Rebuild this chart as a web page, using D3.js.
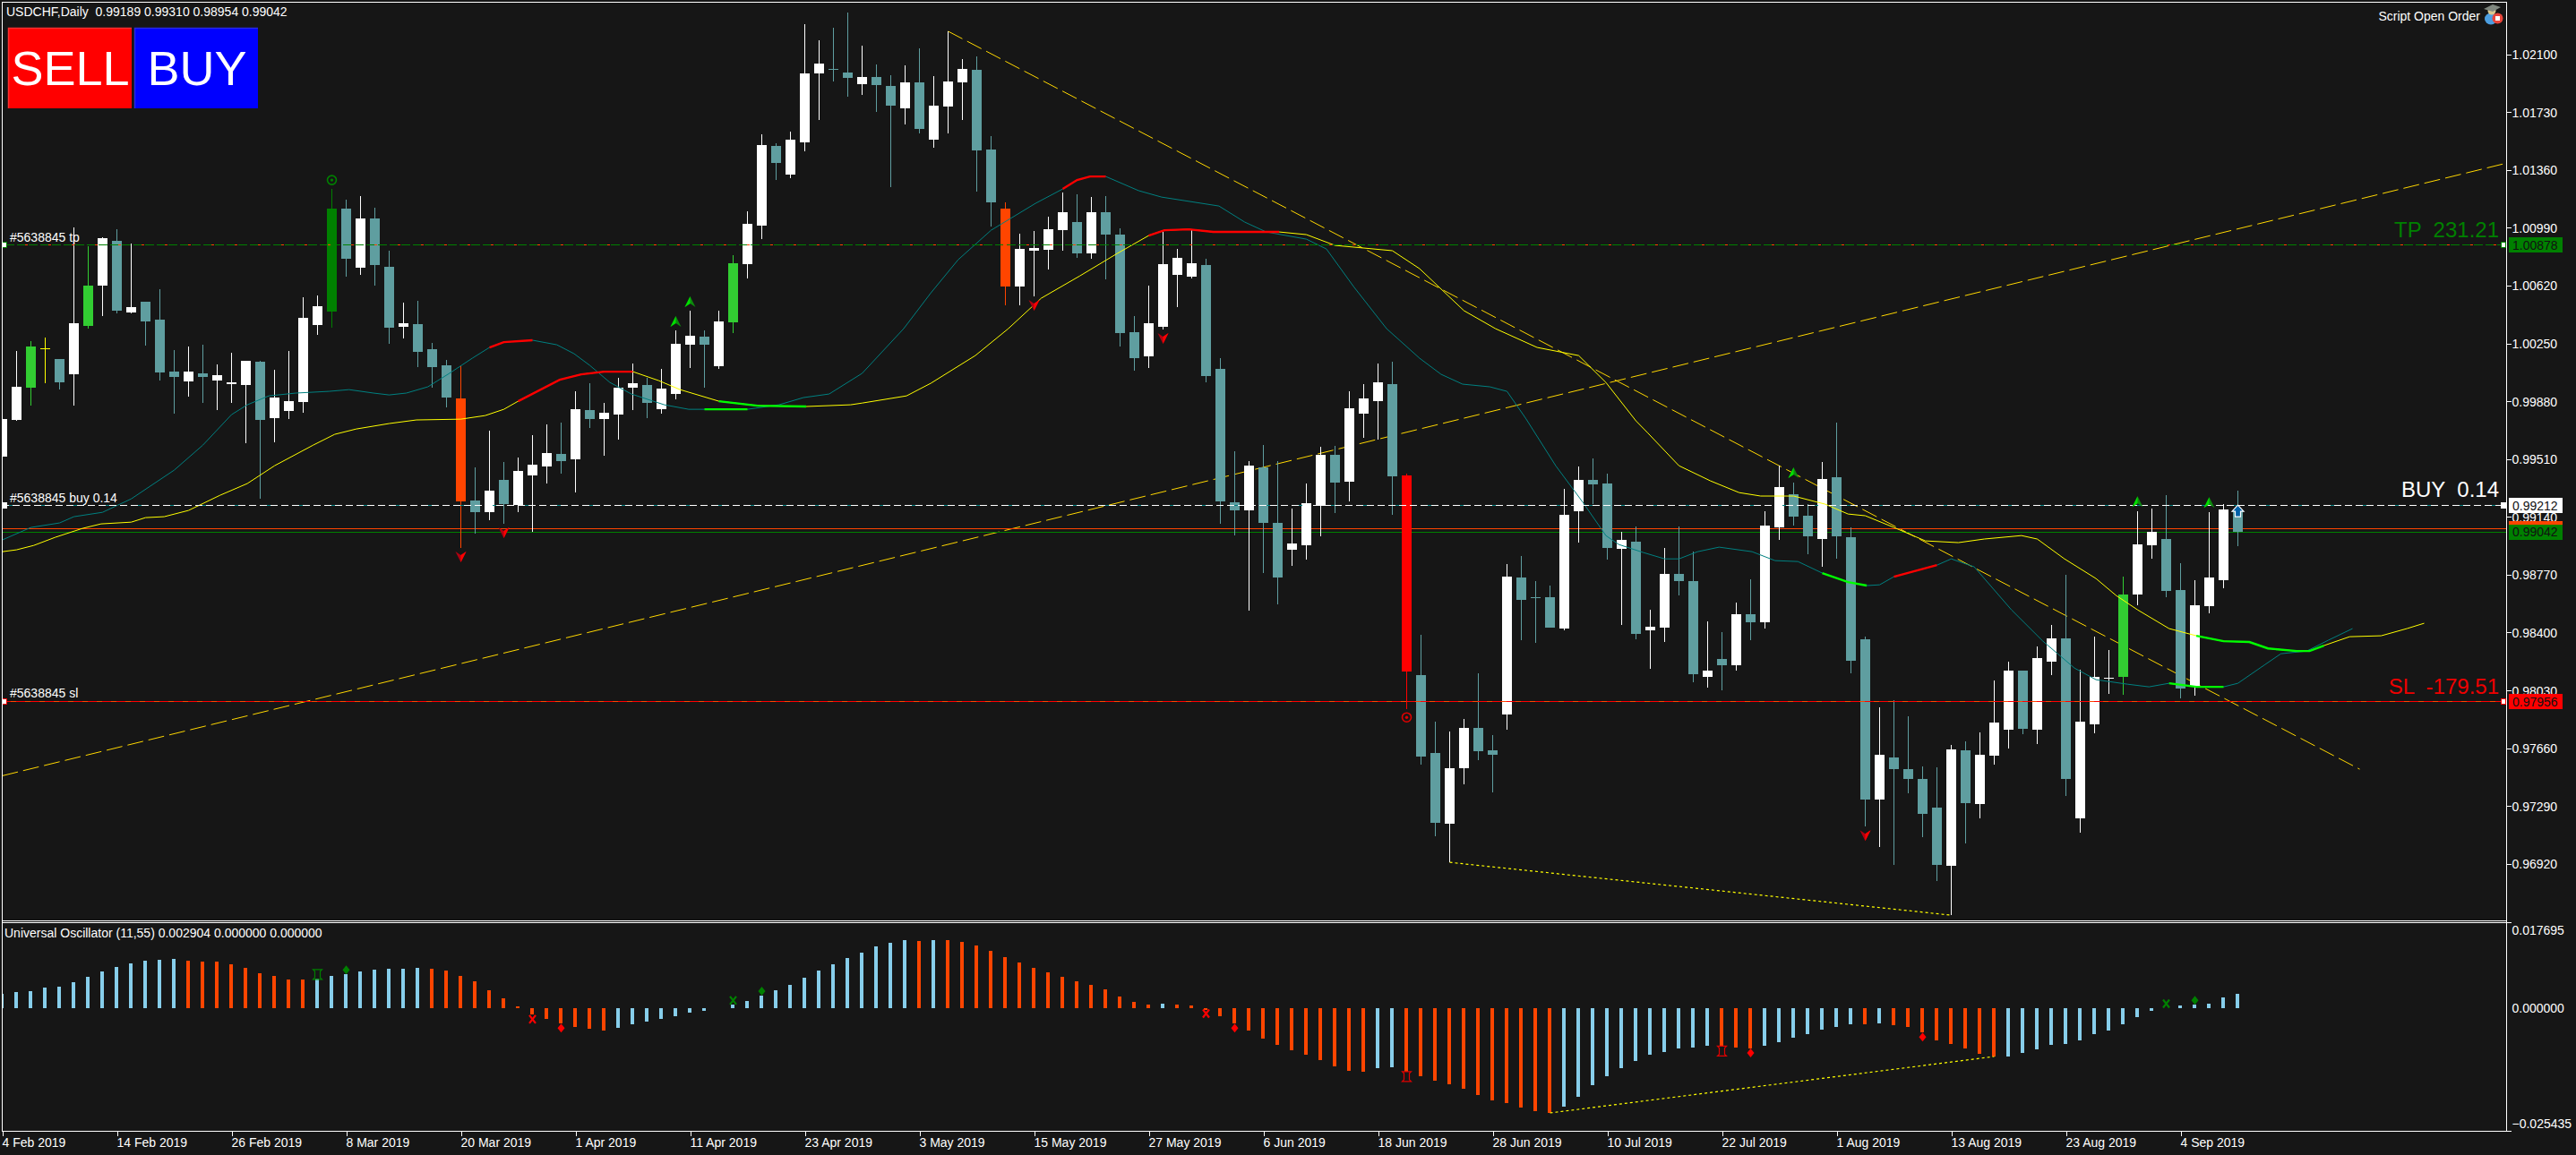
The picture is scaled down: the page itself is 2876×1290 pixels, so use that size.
<!DOCTYPE html>
<html>
<head>
<meta charset="utf-8">
<title>USDCHF Daily</title>
<script src="https://cdn.jsdelivr.net/npm/d3@7"></script>
<style>
html,body{margin:0;padding:0;background:#161616;overflow:hidden}
svg{display:block}
text{font-family:"Liberation Sans",Arial,sans-serif;fill:#fff}
.axis path,.axis line{stroke:#fff;shape-rendering:crispEdges}
.axis text{font-size:14px;fill:#fff;font-family:"Liberation Sans",Arial,sans-serif}
</style>
</head>
<body>
<svg id="chart" width="2876" height="1290"></svg>
<script>
const highs=[0.99897,1.00201,1.00264,1.00287,1.00149,1.00992,1.00871,1.00929,1.00980,1.00888,
1.00516,1.00596,1.00207,1.00229,1.00241,1.00115,1.00189,1.00138,1.00138,1.00081,
1.00201,1.00545,1.00556,1.01238,1.01169,1.01192,1.01118,1.00843,1.00510,1.00522,
1.00252,1.00144,1.00103,0.99456,0.99691,0.99490,0.99519,0.99662,0.99731,0.99742,
0.99943,0.99995,0.99868,1.00029,1.00121,1.00029,1.00086,1.00333,1.00459,1.00333,
1.00459,1.00814,1.01095,1.01587,1.01530,1.01605,1.02292,1.02189,1.02269,1.02367,
1.02155,1.02034,1.01966,1.02029,1.02138,1.01960,1.02246,1.02069,1.02086,1.01576,
1.01152,1.00951,1.00969,1.01060,1.01215,1.01204,1.01186,1.01192,1.00986,1.00424,
1.00619,1.00963,1.00854,1.00974,1.00791,1.00155,0.99559,0.99496,0.99599,0.99496,
0.99192,0.99353,0.99588,0.99593,0.99943,0.99989,1.00121,1.00132,0.99416,0.98384,
0.97829,0.97766,0.97846,0.98138,0.97743,0.98837,0.98889,0.98728,0.98700,0.99318,
0.99462,0.99513,0.99416,0.99043,0.99078,0.98545,0.98940,0.99078,0.98917,0.98470,
0.98402,0.98591,0.98740,0.99175,0.99467,0.99359,0.99221,0.99490,0.99742,0.99072,
0.98373,0.97920,0.97966,0.97863,0.97542,0.97536,0.97680,0.97703,0.97760,0.98092,
0.98213,0.98155,0.98310,0.98448,0.98768,0.98161,0.98373,0.98287,0.98757,0.99175,
0.99192,0.99278,0.98843,0.98734,0.99169,0.99221,0.99310];
const lows=[0.99410,0.99754,0.99851,0.99995,0.99954,0.99851,1.00344,1.00424,1.00441,1.00441,
1.00235,1.00012,0.99800,0.99909,0.99868,0.99823,0.99868,0.99611,0.99255,0.99616,
0.99765,0.99805,1.00304,1.00350,1.00676,1.00688,1.00619,1.00247,1.00281,1.00098,
0.99966,0.99840,0.98940,0.99032,0.99118,0.99095,0.99169,0.99043,0.99353,0.99416,
0.99295,0.99708,0.99530,0.99634,0.99823,0.99771,0.99800,0.99891,1.00092,0.99966,
1.00086,1.00315,1.00665,1.00917,1.01295,1.01307,1.01479,1.01679,1.01926,1.01828,
1.01840,1.01731,1.01249,1.01651,1.01593,1.01502,1.01593,1.01679,1.01221,1.00997,
1.00493,1.00493,1.00550,1.00722,1.00843,1.00797,1.00791,1.00659,1.00229,1.00075,
1.00092,1.00338,1.00482,1.00665,1.00000,0.99095,0.99020,0.98539,0.98780,0.98579,
0.98826,0.98866,0.99015,0.99164,0.99238,0.99645,0.99634,0.99152,0.97909,0.97554,
0.97095,0.96929,0.97428,0.97582,0.97376,0.97777,0.98350,0.98333,0.98430,0.98413,
0.98975,0.99221,0.98866,0.98448,0.98356,0.98167,0.98339,0.98637,0.98081,0.98046,
0.98029,0.98155,0.98350,0.98425,0.98992,0.99083,0.98900,0.98820,0.98871,0.98138,
0.97158,0.97026,0.96912,0.97370,0.97089,0.96809,0.96591,0.97049,0.97210,0.97554,
0.97657,0.97748,0.97685,0.98127,0.97353,0.97118,0.97754,0.98006,0.98001,0.98574,
0.98871,0.98625,0.97978,0.97995,0.98522,0.98682,0.98954];
const opens=[0.99525,0.99760,0.99966,1.00218,1.00149,1.00052,1.00361,1.00619,1.00906,1.00447,
1.00516,1.00401,1.00069,1.00006,1.00058,1.00012,0.99989,0.99983,1.00132,0.99771,
0.99817,0.99874,1.00367,1.00453,1.01112,1.00734,1.01049,1.00739,1.00356,1.00373,
1.00212,1.00109,0.99897,0.99244,0.99169,0.99376,0.99215,0.99404,0.99462,0.99542,
0.99508,0.99823,0.99765,0.99794,0.99966,0.99983,0.99828,0.99926,1.00241,1.00293,
1.00103,1.00384,1.00757,1.01003,1.01513,1.01330,1.01536,1.01977,1.02006,1.01983,
1.01908,1.01954,1.01897,1.01754,1.01920,1.01553,1.01765,1.01920,1.02000,1.01490,
1.01112,1.00613,1.00843,1.00848,1.00974,1.01026,1.00825,1.01089,1.00946,1.00321,
1.00166,1.00356,1.00688,1.00676,1.00751,1.00086,0.99232,0.99181,0.99456,0.99101,
0.98929,0.98957,0.99210,0.99536,0.99364,0.99800,0.99880,0.99989,0.99404,0.98127,
0.97628,0.97175,0.97531,0.97789,0.97645,0.97874,0.98751,0.98625,0.98625,0.98425,
0.99175,0.99376,0.99353,0.98935,0.98980,0.98413,0.98430,0.98774,0.98728,0.98115,
0.98230,0.98190,0.98516,0.98465,0.99072,0.99284,0.99147,0.98998,0.99393,0.99009,
0.98356,0.97330,0.97599,0.97525,0.97462,0.97279,0.96906,0.97645,0.97301,0.97611,
0.97777,0.98155,0.97777,0.98213,0.98362,0.97210,0.97811,0.98109,0.98115,0.98642,
0.98957,0.98998,0.98671,0.98052,0.98568,0.98734,0.99189];
const closes=[0.99765,0.99972,1.00229,1.00218,1.00000,1.00378,1.00619,1.00923,1.00459,1.00482,
1.00390,1.00063,1.00035,1.00069,1.00035,1.00046,1.00000,1.00138,0.99760,0.99903,
0.99880,1.00413,1.00487,1.01112,1.00791,1.01049,1.00751,1.00350,1.00378,1.00195,
1.00098,0.99903,0.99238,0.99169,0.99307,0.99221,0.99433,0.99473,0.99548,0.99496,
0.99828,0.99765,0.99805,0.99966,0.99995,0.99868,0.99960,1.00247,1.00298,1.00241,
1.00390,1.00762,1.01014,1.01519,1.01404,1.01553,1.01977,1.02040,1.02006,1.01948,
1.01954,1.01903,1.01771,1.01920,1.01622,1.01771,1.01926,1.02006,1.01484,1.01152,
1.00613,1.00854,1.00860,1.00980,1.01089,1.00825,1.01089,1.00946,1.00315,1.00155,
1.00378,1.00757,1.00797,1.00762,1.00040,0.99238,0.99181,0.99467,0.99101,0.98751,
0.98969,0.99227,0.99536,0.99359,0.99834,0.99897,1.00000,0.99399,0.98149,0.97605,
0.97181,0.97531,0.97789,0.97640,0.97617,0.98757,0.98608,0.98625,0.98430,0.99152,
0.99376,0.99347,0.98940,0.98992,0.98390,0.98436,0.98774,0.98728,0.98132,0.98155,
0.98190,0.98516,0.98465,0.99083,0.99330,0.99141,0.99015,0.99381,0.99015,0.98218,
0.97330,0.97617,0.97525,0.97462,0.97238,0.96912,0.97651,0.97307,0.97617,0.97823,
0.98155,0.97783,0.98235,0.98362,0.97462,0.97829,0.98115,0.98109,0.98642,0.98963,
0.99043,0.98665,0.98041,0.98574,0.98751,0.99187,0.99042];
// Bars painted in a special colour: [bar, colour name]
const specialBars=[[2,"lime"],[3,"yellow"],[6,"lime"],[23,"green"],[32,"orange"],[51,"lime"],[70,"orange"],[98,"red"],[148,"lime"]];

const oscValues=[0.00296,0.00333,0.00352,0.00426,0.00444,0.00537,0.00648,0.00759,0.00851,0.00926,
0.00981,0.01000,0.01018,0.00981,0.00963,0.00963,0.00907,0.00833,0.00722,0.00666,
0.00592,0.00592,0.00611,0.00666,0.00703,0.00759,0.00796,0.00814,0.00814,0.00833,
0.00814,0.00777,0.00666,0.00555,0.00370,0.00204,0.00037,-0.00130,-0.00222,-0.00315,
-0.00389,-0.00426,-0.00463,-0.00407,-0.00333,-0.00278,-0.00222,-0.00167,-0.00093,-0.00056,
0,0.00074,0.00148,0.00259,0.00370,0.00481,0.00629,0.00777,0.00907,0.01037,
0.01148,0.01277,0.01351,0.01407,0.01388,0.01407,0.01407,0.01370,0.01296,0.01185,
0.01055,0.00944,0.00833,0.00740,0.00648,0.00555,0.00481,0.00389,0.00241,0.00130,
0.00074,0.00093,0.00074,0.00056,-0.00043,-0.00167,-0.00315,-0.00463,-0.00629,-0.00759,
-0.00870,-0.00963,-0.01074,-0.01203,-0.01296,-0.01314,-0.01240,-0.01222,-0.01314,-0.01407,
-0.01499,-0.01573,-0.01666,-0.01795,-0.01907,-0.01962,-0.02055,-0.02129,-0.02166,-0.02036,
-0.01832,-0.01592,-0.01407,-0.01240,-0.01092,-0.00963,-0.00907,-0.00833,-0.00814,-0.00777,
-0.00796,-0.00814,-0.00833,-0.00777,-0.00703,-0.00611,-0.00537,-0.00444,-0.00389,-0.00333,
-0.00333,-0.00315,-0.00352,-0.00389,-0.00500,-0.00666,-0.00740,-0.00833,-0.00944,-0.01000,
-0.01000,-0.00926,-0.00851,-0.00759,-0.00740,-0.00666,-0.00537,-0.00463,-0.00333,-0.00185,
-0.00056,0,0.00056,0.00074,0.00093,0.00222,0.002904];
const oscOrangeRanges=[[13,21],[30,42],[64,64],[66,80],[82,95],[98,108],[120,122],[130,130],[132,139]];

// Moving averages: [bar, price]
const tealMA=[[0,.98992],[2,.99072],[4,.99101],[5,.99141],[7,.99169],[9,.99255],[12,.99439],[14,.99599],[16,.99794],[17.1,.99857],[18.6,.99914],[20.5,.99932],[22.8,.99943],[24.2,.99954],[25.9,.99932],[27,.99920],[28.2,.99932],[29.7,.99972],[31.2,1.00058],[32.8,1.00155],[34,1.00224],[35,1.00258],[37,1.00270],[38.7,1.00241],[39.9,1.00184],[41,1.00109],[42.4,1.00000],[43.9,.99926],[46.2,.99857],[47.9,.99828],[49,.99828],[52,.99828],[54.2,.99857],[55.9,.99903],[57.7,.99926],[60,1.00058],[62.9,1.00344],[64.8,1.00573],[66.7,1.00785],[69,1.00974],[72.1,1.01146],[74,1.01238],[75,1.01295],[75.9,1.01318],[77,1.01318],[79.3,1.01227],[80.9,1.01186],[84.9,1.01129],[86.7,1.01026],[88.2,1.00963],[91,1.00917],[92.4,1.00854],[94.3,1.00613],[96.6,1.00344],[98.9,1.00155],[100.4,1.00052],[101.9,.99989],[103.8,.99972],[105,.99943],[106.3,.99771],[108.4,.99467],[110.3,.99232],[111.9,.99020],[112.8,.98963],[114.5,.98912],[116,.98871],[117,.98871],[118.3,.98917],[119.8,.98946],[122.1,.98917],[123.7,.98860],[125.3,.98854],[127,.98780],[128.8,.98722],[130.1,.98700],[131,.98705],[132,.98757],[135,.98831],[136,.98871],[137.6,.98820],[140.2,.98545],[142.4,.98344],[144.6,.98172],[146.1,.98098],[148.3,.98069],[149.8,.98052],[151.2,.98075],[153.1,.98052],[155,.98052],[156,.98075],[157.9,.98195],[159,.98264],[160.8,.98281],[162.3,.98350],[164,.98425]];
const yellowMA=[[0,.98917],[1,.98929],[2.2,.98957],[3.7,.99009],[5.6,.99066],[6.9,.99095],[9,.99106],[10,.99135],[11.3,.99141],[13,.99181],[15.2,.99278],[17.1,.99353],[19,.99467],[21.7,.99599],[23.2,.99668],[24.7,.99702],[27,.99737],[28.9,.99760],[32,.99765],[33.7,.99788],[35,.99828],[36,.99880],[38.9,1.00017],[40.4,1.00052],[42,1.00069],[44,1.00069],[45.8,1.00012],[47.3,.99954],[50,.99880],[52.7,.99851],[56.1,.99846],[59.2,.99857],[60,.99868],[63.1,.99914],[64.8,.99995],[67.9,1.00172],[70.2,1.00344],[72.5,1.00539],[75.2,1.00682],[77.8,1.00825],[80,1.00940],[81.1,1.00974],[82.8,1.00980],[84.5,1.00963],[88,1.00963],[89.1,1.00963],[91,1.00946],[93,1.00877],[97,1.00843],[98.9,1.00728],[102,1.00459],[104.2,1.00344],[107.1,1.00224],[110,1.00172],[111.9,1.00000],[114,.99754],[114.8,.99679],[117,.99467],[119.2,.99370],[121.2,.99295],[122.7,.99273],[125,.99273],[127.2,.99221],[128.8,.99158],[130,.99147],[132,.99072],[134.2,.98986],[136.5,.98975],[138.3,.98998],[140.9,.99020],[142,.98998],[143.9,.98871],[146.1,.98745],[147.5,.98637],[149,.98545],[151.2,.98425],[153.1,.98379],[155,.98344],[156.8,.98339],[158.1,.98298],[160.1,.98281],[161,.98281],[162,.98316],[163.8,.98373],[166,.98379],[167.8,.98425],[169,.98459]];
// Highlighted stretches of the averages: [from bar, to bar, colour name]
const tealHighlights=[[34,37,"red"],[49,52,"lime"],[74,77,"red"],[127,130.1,"lime"],[132,135,"red"],[151.2,155,"lime"]];
const yellowHighlights=[[36,44,"red"],[50,56.1,"lime"],[80,89.1,"red"],[153.1,162,"lime"]];

// Trend lines: [[bar, value],[bar, value]]
const risingTrend=[[0,0.97483],[175,1.01409]];
const fallingTrend=[[66,1.02247],[164.5,0.97525]];
const priceDotted=[[101,0.96929],[136,0.96591]];
const oscDotted=[[108,-0.02166],[139,-0.01000]];

// Order levels
const levelTP=1.00878, levelBuy=0.99212, levelSL=0.97956, levelBid=0.99065, levelClose=0.99042;

// Markers: [bar, value]
const greenArrows=[[47,1.00390],[48,1.00516],[125,.99422],[149,.99238],[154,.99232]];
const redArrows=[[32,.98883],[35,.99038],[72,1.00493],[81,1.00281],[130,.97101]];
const greenTargets=[[23,1.01295]];
const redTargets=[[98,.97857]];
const blueArrows=[[156,.99175]];
const oscGreenBoxes=[[22,.00697]];
const oscRedBoxes=[[98,-.01413],[120,-.00888]];
const oscGreenDiamonds=[[24,.00790],[53,.00352],[153,.00160]];
const oscRedDiamonds=[[39,-.00413],[86,-.00413],[122,-.00926],[134,-.00598]];
const oscGreenCrosses=[[51,.00160],[151,.00093]];
const oscRedCrosses=[[37,-.00228],[84,-.00111]];

// Axis labels
const priceTicks=[1.02100,1.01730,1.01360,1.00990,1.00620,1.00250,0.99880,0.99510,0.99140,0.98770,0.98400,0.98030,0.97660,0.97290,0.96920];
const oscTicks=[0.017695,0,-0.025435];
const dateLabels=["4 Feb 2019","14 Feb 2019","26 Feb 2019","8 Mar 2019","20 Mar 2019","1 Apr 2019","11 Apr 2019","23 Apr 2019","3 May 2019","15 May 2019","27 May 2019","6 Jun 2019","18 Jun 2019","28 Jun 2019","10 Jul 2019","22 Jul 2019","1 Aug 2019","13 Aug 2019","23 Aug 2019","4 Sep 2019"];
const dateBars=dateLabels.map((_,i)=>i*8);

const headerText="USDCHF,Daily  0.99189 0.99310 0.98954 0.99042";
const oscText="Universal Oscillator (11,55) 0.002904 0.000000 0.000000";
const orderId="#5638845";

const COL={white:"#ffffff",teal:"#5f9ea0",lime:"#32cd32",brightLime:"#00ff00",green:"#008000",orange:"#ff4500",red:"#ff0000",yellow:"#ffff00",gold:"#ffd700",ma:"#008080",sky:"#87ceeb",bg:"#161616"};
const L=3,R=2798,T=3,B=1028,OT=1031,OB=1263;

const svg=d3.select("#chart");
svg.append("rect").attr("width",2876).attr("height",1290).attr("fill",COL.bg);
const defs=svg.append("defs");
defs.append("clipPath").attr("id","mainClip").append("rect").attr("x",L).attr("y",T).attr("width",R-L).attr("height",B-T);
defs.append("clipPath").attr("id","oscClip").append("rect").attr("x",L).attr("y",OT).attr("width",R-L).attr("height",OB-OT);

const x=d3.scaleLinear().domain([0,156]).range([2.5,2498.5]);
const y=d3.scaleLinear().domain([0.984,1.021]).range([706.4,60.6]);
const yo=d3.scaleLinear().domain([-0.025435,0.017695]).range([1263.4,1030.4]);

const main=svg.append("g").attr("clip-path","url(#mainClip)");
const osc=svg.append("g").attr("clip-path","url(#oscClip)");
const crisp="crispEdges";

// Trend lines (behind the candles)
const lineP=d3.line().x(d=>x(d[0])).y(d=>y(d[1]));
const lineO=d3.line().x(d=>x(d[0])).y(d=>yo(d[1]));
[risingTrend,fallingTrend].forEach(t=>{
  main.append("path").attr("d",lineP(t)).attr("fill","none").attr("stroke",COL.gold).attr("stroke-width",1).attr("stroke-dasharray","18 6");
});
main.append("path").attr("d",lineP(priceDotted)).attr("fill","none").attr("stroke",COL.yellow).attr("stroke-width",1.2).attr("stroke-dasharray","3 3");

// Bid / close lines
[[levelBid,COL.orange],[levelClose,COL.green]].forEach(([v,c])=>{
  main.append("rect").attr("x",L).attr("width",R-L).attr("y",Math.floor(y(v))).attr("height",1).attr("fill",c).attr("shape-rendering",crisp);
});

// Candles
const bars=d3.range(opens.length).map(i=>({i,o:opens[i],h:highs[i],l:lows[i],c:closes[i]}));
const special=new Map(specialBars);
const barColour=d=>{const s=special.get(d.i);return s?COL[s]:(d.c>d.o||d.i===147?COL.white:COL.teal);};
const candle=main.append("g").selectAll("g").data(bars).join("g");
candle.append("rect").attr("x",d=>Math.floor(x(d.i))).attr("width",1)
  .attr("y",d=>y(d.h)).attr("height",d=>y(d.l)-y(d.h)).attr("fill",barColour).attr("shape-rendering",crisp);
candle.append("rect").attr("x",d=>Math.floor(x(d.i))-5).attr("width",11)
  .attr("y",d=>y(Math.max(d.o,d.c))).attr("height",d=>Math.max(1.2,y(Math.min(d.o,d.c))-y(Math.max(d.o,d.c))))
  .attr("fill",barColour).attr("shape-rendering",crisp);

// Moving averages
[[tealMA,tealHighlights,COL.ma],[yellowMA,yellowHighlights,COL.yellow]].forEach(([pts,hl,c])=>{
  main.append("path").attr("d",lineP(pts)).attr("fill","none").attr("stroke",c).attr("stroke-width",1);
  hl.forEach(([a,b,name])=>{
    main.append("path").attr("d",lineP(pts.filter(p=>p[0]>=a&&p[0]<=b))).attr("fill","none")
      .attr("stroke",name==="red"?COL.red:COL.brightLime).attr("stroke-width",2.4);
  });
});

// Order lines
function orderLine(v,under,underDash,over,overDash){
  const py=Math.floor(y(v))+0.5;
  main.append("line").attr("x1",L+3).attr("x2",R-3).attr("y1",py).attr("y2",py).attr("stroke",under).attr("stroke-dasharray",underDash).attr("shape-rendering",crisp);
  main.append("line").attr("x1",L+3).attr("x2",R-3).attr("y1",py).attr("y2",py).attr("stroke",over).attr("stroke-dasharray",overDash).attr("stroke-dashoffset",4).attr("shape-rendering",crisp);
}
orderLine(levelTP,COL.green,"10 3",COL.orange,"3 23");
orderLine(levelBuy,COL.ma,"12 24",COL.white,"8 4");
orderLine(levelSL,COL.orange,"14 2",COL.red,"10 6");

// Handles at both ends of the order lines
[[levelTP,COL.green],[levelBuy,COL.white],[levelSL,COL.red]].forEach(([v,c])=>{
  [5,2795].forEach(px=>{
    svg.append("rect").attr("x",px-2.5).attr("y",Math.floor(y(v))-2.5).attr("width",5).attr("height",6)
      .attr("fill",COL.white).attr("stroke",c).attr("shape-rendering",crisp);
  });
});

// Marker shapes
function marker(g,data,sc,fn){
  g.append("g").selectAll("g").data(data).join("g").attr("transform",d=>`translate(${x(d[0])},${sc(d[1])})`).each(fn);
}
const arrowUp=(dark,light)=>function(){
  const s=d3.select(this);
  s.append("path").attr("d","M0,-6L6,6L0,2L-6,6Z").attr("fill",dark);
  s.append("path").attr("d","M0,-6L0,2L-6,6Z").attr("fill",light);
};
const arrowDown=(dark,light)=>function(){
  const s=d3.select(this);
  s.append("path").attr("d","M0,6L6,-6L0,-2L-6,-6Z").attr("fill",dark);
  s.append("path").attr("d","M0,6L0,-2L6,-6Z").attr("fill",light);
};
const target=c=>function(){
  const s=d3.select(this);
  s.append("circle").attr("r",5).attr("fill","none").attr("stroke",c).attr("stroke-width",1.6);
  s.append("circle").attr("r",1.7).attr("fill",c);
};
const diamond=c=>function(){d3.select(this).append("path").attr("d","M0,-5L4,0L0,5L-4,0Z").attr("fill",c);};
const cross=c=>function(){d3.select(this).append("path").attr("d","M-3.5,-4.5L3.5,4.5M3.5,-4.5L-3.5,4.5").attr("stroke",c).attr("stroke-width",2.2).attr("fill","none");};
const box=c=>function(){d3.select(this).append("path").attr("d","M-5,-5.5H5L3,-3.5V3.5L5,5.5H-5L-3,3.5V-3.5Z").attr("stroke",c).attr("stroke-width",1.2).attr("fill","none");};

marker(svg,greenArrows,y,arrowUp("#0c8a0c","#00e000"));
marker(svg,redArrows,y,arrowDown("#b00010","#ff0000"));
marker(svg,greenTargets,y,target(COL.green));
marker(svg,redTargets,y,target("#e00000"));
marker(svg,blueArrows,y,function(){
  d3.select(this).append("path").attr("d","M0,-7L6.5,0H3V6H-3V0H-6.5Z").attr("fill","#0060a8").attr("stroke",COL.white).attr("stroke-width",1.2);
});

// Oscillator bars
const oscOrange=i=>oscOrangeRanges.some(([a,b])=>i>=a&&i<=b);
osc.append("g").selectAll("rect").data(oscValues.map((v,i)=>({v,i}))).join("rect")
  .attr("x",d=>Math.floor(x(d.i))-2).attr("width",4)
  .attr("y",d=>Math.min(yo(0),yo(d.v))).attr("height",d=>Math.abs(yo(d.v)-yo(0)))
  .attr("fill",d=>oscOrange(d.i)?COL.orange:COL.sky).attr("shape-rendering",crisp);
osc.append("path").attr("d",lineO(oscDotted)).attr("fill","none").attr("stroke",COL.yellow).attr("stroke-width",1.2).attr("stroke-dasharray","3 3");
marker(osc,oscGreenBoxes,yo,box(COL.green));
marker(osc,oscRedBoxes,yo,box("#e00000"));
marker(osc,oscGreenDiamonds,yo,diamond(COL.green));
marker(osc,oscRedDiamonds,yo,diamond("#ff0000"));
marker(osc,oscGreenCrosses,yo,cross(COL.green));
marker(osc,oscRedCrosses,yo,cross("#ff0000"));

// Frame
const frame=svg.append("g").attr("shape-rendering",crisp).attr("stroke","#fff").attr("fill","none");
frame.append("path").attr("d",`M2.5,1263.5V2.5H${R+.5}V1263.5H2.5`);
frame.append("path").attr("d",`M2.5,1028.5H${R+.5}M2.5,1030.5H${R+.5}`);

// Axes
const pa=svg.append("g").attr("class","axis").attr("transform",`translate(${R+.5},0)`)
  .call(d3.axisRight(y).tickValues(priceTicks).tickFormat(d3.format(".5f")).tickSize(5).tickPadding(1));
pa.select(".domain").remove();
pa.selectAll(".tick text").attr("dy","0.36em");

const oa=svg.append("g").attr("class","axis").attr("transform",`translate(${R+.5},0)`)
  .call(d3.axisRight(yo).tickValues(oscTicks).tickFormat(d3.format(".6f")).tickSize(5).tickPadding(1));
oa.select(".domain").remove();
oa.selectAll(".tick text").attr("transform",d=>d>0?"translate(0,9)":d<0?"translate(0,-8)":null);
oa.selectAll(".tick line").attr("stroke-opacity",d=>d===0?0:1);

const ta=svg.append("g").attr("class","axis").attr("transform",`translate(0,${OB+.5})`)
  .call(d3.axisBottom(x).tickValues(dateBars).tickFormat((d,i)=>dateLabels[i]).tickSize(5).tickPadding(1));
ta.select(".domain").remove();
ta.selectAll(".tick text").attr("text-anchor","start").attr("dx","-0.5").attr("dy","0.8em");

// Price labels on the axis
function priceTag(v,fill,txt){
  const c=y(v);
  svg.append("rect").attr("x",2801).attr("width",60).attr("y",c-8.5).attr("height",17).attr("fill",fill).attr("shape-rendering",crisp);
  if(txt)svg.append("text").attr("x",2805).attr("y",c+5).attr("font-size",14).style("fill","#111").text(txt);
}
priceTag(levelBuy,COL.white,d3.format(".5f")(levelBuy));
priceTag(levelBid,COL.orange,null);
priceTag(levelClose,COL.green,d3.format(".5f")(levelClose));
priceTag(levelSL,COL.red,d3.format(".5f")(levelSL));
priceTag(levelTP,COL.green,d3.format(".5f")(levelTP));

// Order captions
const cap=(t,c,v,dy)=>svg.append("text").attr("x",2790).attr("y",y(v)+dy).attr("text-anchor","end").attr("font-size",24).style("fill",c).style("white-space","pre").text(t);
cap("BUY  0.14",COL.white,levelBuy,-9.5);
cap("SL  -179.51","#ee0000",levelSL,-8.5);
cap("TP  231.21",COL.green,levelTP,-8.5);
[[orderId+" tp",levelTP,-3.5],[orderId+" buy 0.14",levelBuy,-4],[orderId+" sl",levelSL,-5]].forEach(([t,v,dy])=>{
  svg.append("text").attr("x",11).attr("y",y(v)+dy).attr("font-size",14).text(t);
});

// Header and indicator texts
svg.append("text").attr("x",7).attr("y",18).attr("font-size",14).style("white-space","pre").text(headerText);
svg.append("text").attr("x",5).attr("y",1047).attr("font-size",14).text(oscText);
svg.append("text").attr("x",2769).attr("y",23).attr("text-anchor","end").attr("font-size",14).text("Script Open Order");

// Buttons
[["SELL",9,"#ff0000","#ff3030",78.5],["BUY",150,"#0000ff","#2a2ae0",220]].forEach(([t,bx,f,e,cx])=>{
  svg.append("rect").attr("x",bx).attr("y",31).attr("width",138).attr("height",90).attr("fill",f).attr("shape-rendering",crisp);
  svg.append("path").attr("d",`M${bx+.5},121V31.5H${bx+138}`).attr("stroke",e).attr("stroke-width",1.5).attr("fill","none");
  svg.append("text").attr("x",cx).attr("y",95).attr("text-anchor","middle").attr("font-size",54).text(t);
});

// Script icon
const icon=svg.append("g");
icon.append("ellipse").attr("cx",2781).attr("cy",21).attr("rx",7).attr("ry",6.5).attr("fill","#4c9ee0");
icon.append("circle").attr("cx",2782).attr("cy",12).attr("r",4.5).attr("fill","#d8c890");
icon.append("path").attr("d","M2773,10L2783,5L2792,8L2783,13Z").attr("fill","#808880");
icon.append("circle").attr("cx",2788.5).attr("cy",20.5).attr("r",6).attr("fill","#e8453a");
icon.append("rect").attr("x",2786).attr("y",18).attr("width",5).attr("height",5).attr("fill","#fff");
</script>
</body>
</html>
